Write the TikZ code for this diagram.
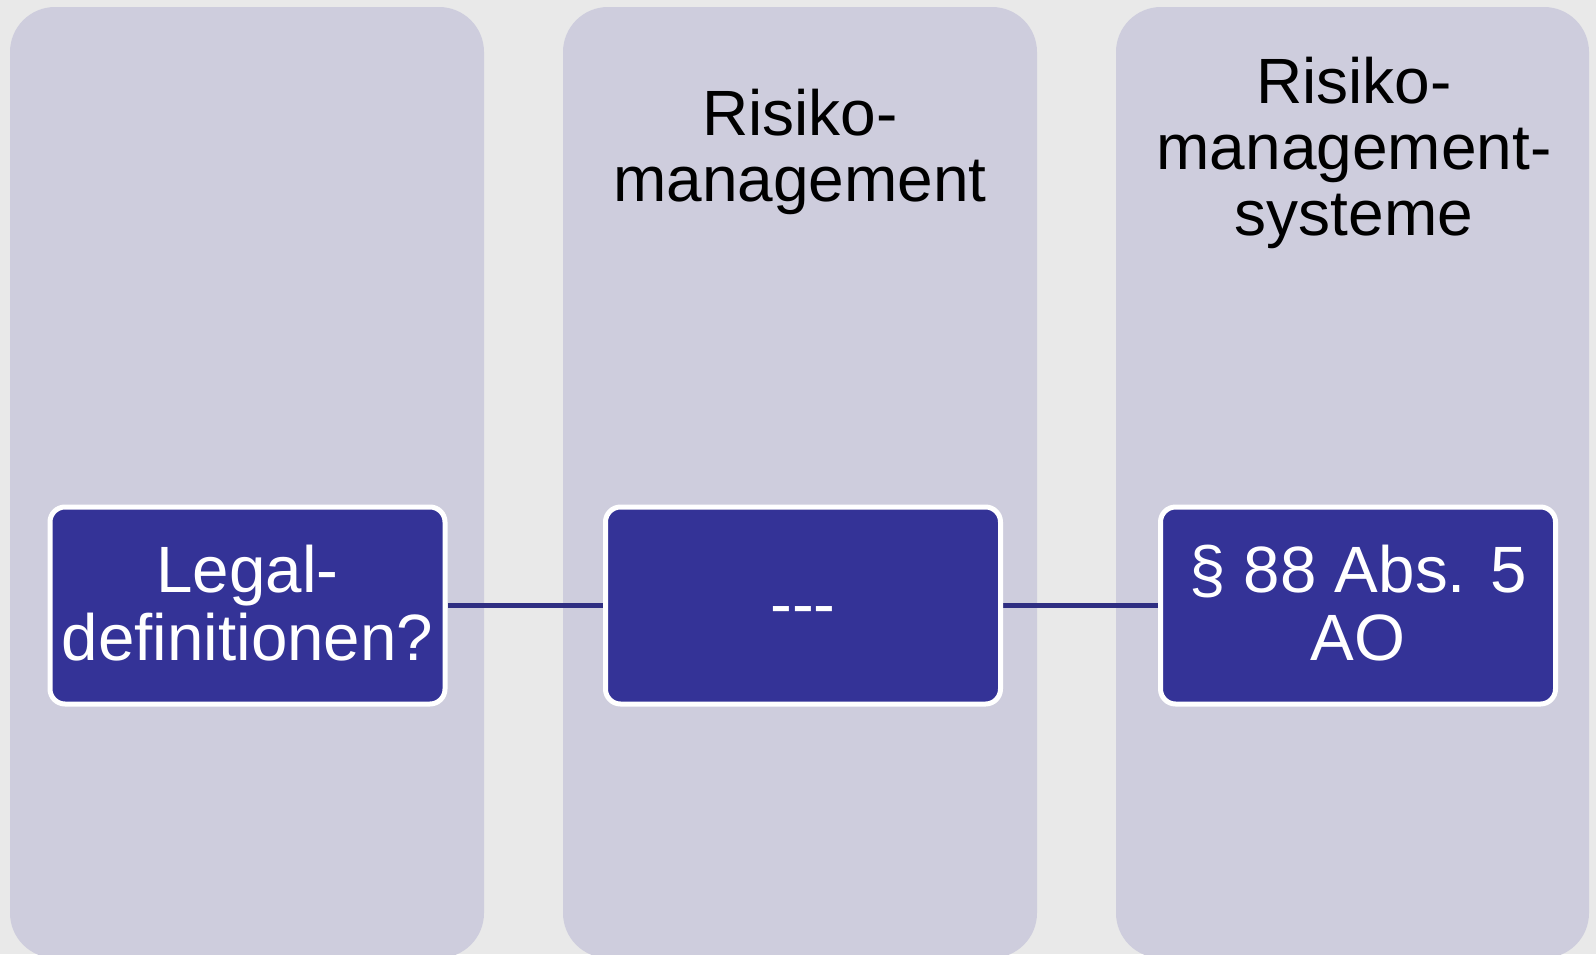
\documentclass[tikz,border=0pt]{standalone}
\usepackage{fontspec}
\setmainfont{Liberation Sans}
\usetikzlibrary{backgrounds}
\definecolor{bgc}{HTML}{E9E9E9}
\definecolor{colc}{HTML}{CECDDD}
\definecolor{boxc}{HTML}{343397}
\definecolor{linec}{HTML}{2F2E82}
\begin{document}
\begin{tikzpicture}[x=1pt,y=-1pt,
  column/.style={fill=colc, draw=none, rounded corners=45pt},
  inbox/.style={draw=white, line width=5pt, fill=boxc, rounded corners=15pt,
    minimum width=395pt, minimum height=197pt, inner sep=0pt},
  headtxt/.style={anchor=north, inner sep=0pt, align=center, text=black,
    font=\fontsize{64}{66}\selectfont},
  boxtxt/.style={inner sep=0pt, align=center, text=white,
    font=\fontsize{65.5}{68}\selectfont},
  conn/.style={draw=linec, line width=5pt}]
\useasboundingbox (0,0) rectangle (1596,954);
% boxes
\node[inbox] (b1) at (247.5,605.5) {};
\node[inbox] (b2) at (803,605.5) {};
\node[inbox] (b3) at (1358,605.5) {};
% texts
\node[boxtxt, anchor=north] (t1) at (247.5,542) {\rule{0pt}{50pt}Legal-\\definitionen?};
\node[boxtxt, anchor=base] (t2) at (803,626) {{-}{-}{-}};
\node[boxtxt, anchor=north] (t3) at (1358,542) {\rule{0pt}{50pt}§ 88 Abs. 5\\AO};
% column headings
\node[headtxt] (h2) at (800,85) {\rule{0pt}{50pt}Risiko-\\management};
\node[headtxt] (h3) at (1354,53) {\rule{0pt}{50pt}Risiko-\\management-\\systeme};
\begin{scope}[on background layer]
\fill[bgc] (0,0) rectangle (1596,954);
\fill[column] (10,7) rectangle (484,958);
\fill[column] (563,7) rectangle (1037,958);
\fill[column] (1116,7) rectangle (1589,958);
\draw[conn] (b1.east) -- (b2.west);
\draw[conn] (b2.east) -- (b3.west);
\end{scope}
\end{tikzpicture}
\end{document}
